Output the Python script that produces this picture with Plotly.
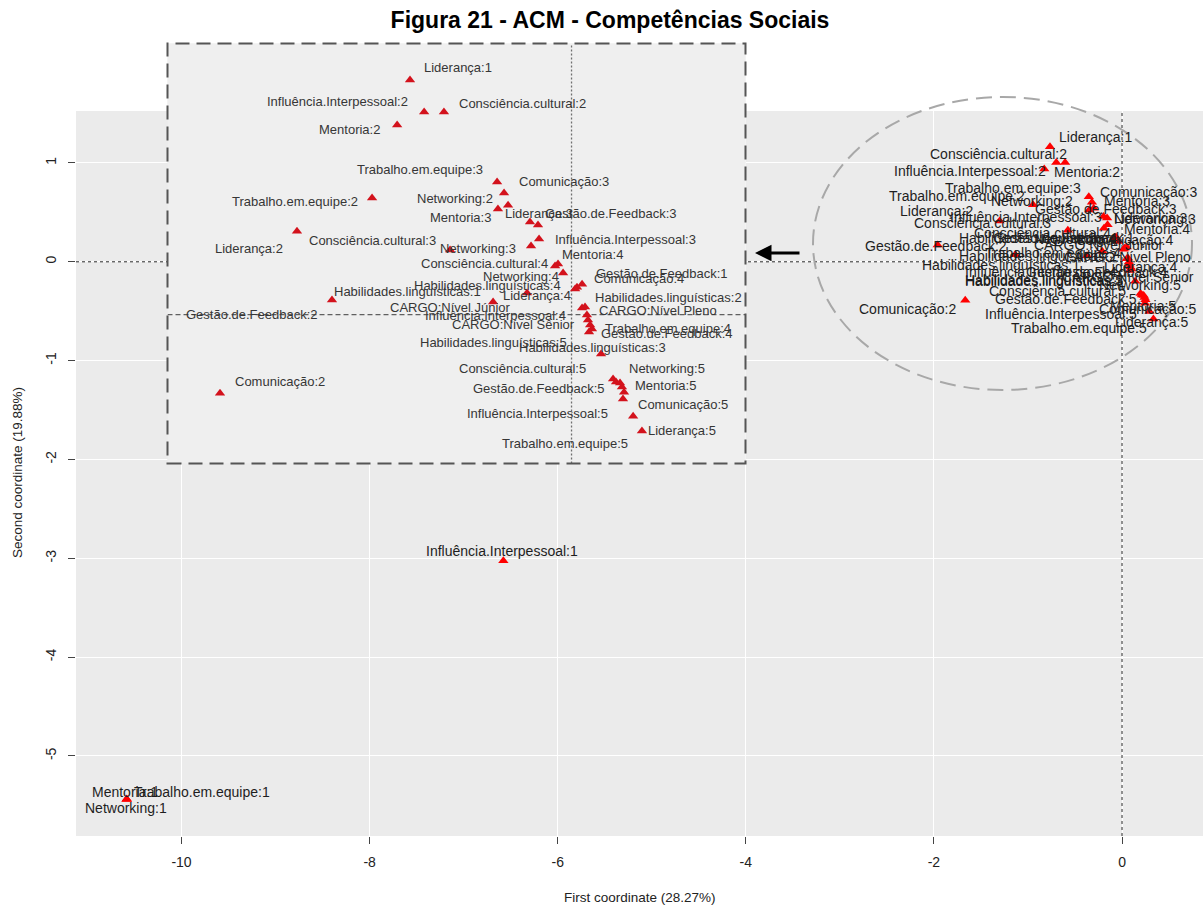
import plotly.graph_objects as go

# ---------------- MCA coordinates of each category ----------------
categories = [
    "Liderança:1", "Liderança:2", "Liderança:3", "Liderança:4", "Liderança:5",
    "Influência.Interpessoal:1", "Influência.Interpessoal:2", "Influência.Interpessoal:3",
    "Influência.Interpessoal:4", "Influência.Interpessoal:5",
    "Consciência.cultural:2", "Consciência.cultural:3", "Consciência.cultural:4", "Consciência.cultural:5",
    "Mentoria:1", "Mentoria:2", "Mentoria:3", "Mentoria:4", "Mentoria:5",
    "Trabalho.em.equipe:1", "Trabalho.em.equipe:2", "Trabalho.em.equipe:3",
    "Trabalho.em.equipe:4", "Trabalho.em.equipe:5",
    "Networking:1", "Networking:2", "Networking:3", "Networking:4", "Networking:5",
    "Comunicação:2", "Comunicação:3", "Comunicação:4", "Comunicação:5",
    "Gestão.de.Feedback:1", "Gestão.de.Feedback:2", "Gestão.de.Feedback:3",
    "Gestão.de.Feedback:4", "Gestão.de.Feedback:5",
    "Habilidades.linguísticas:1", "Habilidades.linguísticas:2", "Habilidades.linguísticas:3",
    "Habilidades.linguísticas:4", "Habilidades.linguísticas:5",
    "CARGO:Nível Júnior", "CARGO:Nível Pleno", "CARGO:Nível Sênior",
]

first_coord = [
    -0.766, -1.302, -0.197, -0.211, 0.334,
    -6.578, -0.699, -0.154, 0.050, 0.244,
    -0.605, -0.576, -0.078, 0.197,
    -10.583, -0.827, -0.349, -0.064, 0.239,
    -10.583, -0.946, -0.353, 0.097, 0.292,
    -10.583, -0.320, -0.192, -0.040, 0.230,
    -1.667, -0.301, 0.026, 0.249,
    0.050, -1.960, -0.159, 0.083, 0.211,
    -1.136, 0.064, 0.140, 0.017, 0.078,
    -0.372, 0.073, 0.088,
]

second_coord = [
    1.164, 0.414, 0.459, 0.107, -0.578,
    -3.024, 1.005, 0.375, 0.032, -0.419,
    1.005, 0.320, 0.241, -0.320,
    -5.439, 0.940, 0.524, 0.251, -0.360,
    -5.439, 0.578, 0.658, -0.072, -0.504,
    -5.439, 0.603, 0.340, 0.206, -0.340,
    -0.390, 0.543, 0.136, -0.385,
    0.151, 0.170, 0.444, -0.087, -0.335,
    0.072, 0.037, -0.196, 0.127, -0.027,
    0.062, -0.002, -0.052,
]

x_ticks = [-10, -8, -6, -4, -2, 0]
y_ticks = [1, 0, -1, -2, -3, -4, -5]

title_text = "Figura 21 - ACM - Competências Sociais"
x_title = "First coordinate (28.27%)"
y_title = "Second coordinate (19.88%)"

# ---------------- label placement (anchor, dx px, dy px; dy > 0 = down) ----------------
main_labels = {
    "Liderança:1": ("l", 7, -10), "Liderança:2": ("r", -25, -10), "Liderança:3": ("l", 8, 2),
    "Liderança:4": ("l", 0, 16), "Liderança:5": ("l", -40, 3),
    "Influência.Interpessoal:1": ("c", -1, -10), "Influência.Interpessoal:2": ("r", -8, 9),
    "Influência.Interpessoal:3": ("r", -4, -8), "Influência.Interpessoal:4": ("l", -164, 13),
    "Influência.Interpessoal:5": ("l", -162, 11),
    "Consciência.cultural:2": ("r", 4, -8), "Consciência.cultural:3": ("r", -15, -7),
    "Consciência.cultural:4": ("r", -2, -5), "Consciência.cultural:5": ("l", -154, -2),
    "Mentoria:1": ("c", -2, -7), "Mentoria:2": ("l", 8, 3), "Mentoria:3": ("l", 13, -9),
    "Mentoria:4": ("l", 6, -8), "Mentoria:5": ("r", 33, 9),
    "Trabalho.em.equipe:1": ("l", 5, -7), "Trabalho.em.equipe:2": ("r", -6, -9),
    "Trabalho.em.equipe:3": ("r", -6, -9), "Trabalho.em.equipe:4": ("l", -148, -16),
    "Trabalho.em.equipe:5": ("l", -140, 16),
    "Networking:1": ("c", -1, 9), "Networking:2": ("r", -17, -1), "Networking:3": ("l", 8, -9),
    "Networking:4": ("r", 0, -2), "Networking:5": ("r", 39, -10),
    "Comunicação:2": ("r", -7, 9), "Comunicação:3": ("l", 4, -16), "Comunicação:4": ("r", 51, -8),
    "Comunicação:5": ("l", -48, 9),
    "Gestão.de.Feedback:1": ("r", 10, -9), "Gestão.de.Feedback:2": ("l", -75, 1),
    "Gestão.de.Feedback:3": ("l", -74, -9), "Gestão.de.Feedback:4": ("r", 40, 2),
    "Gestão.de.Feedback:5": ("l", -149, 4),
    "Habilidades.linguísticas:1": ("l", -95, 10), "Habilidades.linguísticas:2": ("l", -171, -2),
    "Habilidades.linguísticas:3": ("l", -172, 0), "Habilidades.linguísticas:4": ("l", -167, -11),
    "Habilidades.linguísticas:5": ("l", -166, 16),
    "CARGO:Nível Júnior": ("r", 78, -11), "CARGO:Nível Pleno": ("r", 64, -5),
    "CARGO:Nível Sênior": ("r", 66, 10),
}

inset_labels = {
    "Liderança:1": ("l", 12, -12), "Liderança:2": ("r", -12, 17), "Liderança:3": ("l", -27, -9),
    "Liderança:4": ("c", 10, 2), "Liderança:5": ("l", 4, -1),
    "Influência.Interpessoal:2": ("r", -14, -11), "Influência.Interpessoal:3": ("l", 14, 1),
    "Influência.Interpessoal:4": ("r", -14, 7), "Influência.Interpessoal:5": ("r", -13, 14),
    "Consciência.cultural:2": ("l", 13, -9), "Consciência.cultural:3": ("r", -12, -10),
    "Consciência.cultural:4": ("r", -5, -3), "Consciência.cultural:5": ("r", -25, -11),
    "Mentoria:2": ("r", -15, 4), "Mentoria:3": ("r", -5, 9), "Mentoria:4": ("l", 2, -9),
    "Mentoria:5": ("l", 11, -2),
    "Trabalho.em.equipe:2": ("r", -12, 3), "Trabalho.em.equipe:3": ("r", -12, -12),
    "Trabalho.em.equipe:4": ("l", 11, -1), "Trabalho.em.equipe:5": ("c", -68, 27),
    "Networking:2": ("r", -9, 5), "Networking:3": ("r", -13, 2), "Networking:4": ("r", -2, 3),
    "Networking:5": ("l", 7, -15),
    "Comunicação:2": ("l", 13, -12), "Comunicação:3": ("l", 9, -24), "Comunicação:4": ("l", 15, -9),
    "Comunicação:5": ("l", 12, 12),
    "Gestão.de.Feedback:1": ("l", 12, -11), "Gestão.de.Feedback:2": ("l", 26, 34),
    "Gestão.de.Feedback:3": ("l", 5, -12), "Gestão.de.Feedback:4": ("l", 10, 1),
    "Gestão.de.Feedback:5": ("r", -9, 6),
    "Habilidades.linguísticas:1": ("l", 0, -9), "Habilidades.linguísticas:2": ("l", 8, -10),
    "Habilidades.linguísticas:3": ("l", -84, -7), "Habilidades.linguísticas:4": ("r", -12, -3),
    "Habilidades.linguísticas:5": ("r", -19, 22),
    "CARGO:Nível Júnior": ("c", -43, 5), "CARGO:Nível Pleno": ("l", 10, -4),
    "CARGO:Nível Sênior": ("r", -13, -1),
}

# ---------------- page geometry (pixels) ----------------
W, H = 1203, 907
ML, MR, MT, MB = 76, 0, 40, 71
PW, PH = W - ML - MR, H - MT - MB


def fx(px):
    return (px - ML) / PW


def fy(py):
    return (H - MB - py) / PH


main_top_px = 111
main_x_range = [-11.122, 0.861]
main_y_range = [-5.810, 1.526]

inset_box = (167.5, 745.5, 43.5, 463.5)  # left, right, top, bottom
inset_x_range = [-1.916, 0.825]
inset_y_range = [-0.739, 1.345]

FONT = "Liberation Sans, Arial, Helvetica, sans-serif"
ANCH = {"l": "left", "r": "right", "c": "center"}

fig = go.Figure()

# dashed reference axes of the full map (drawn under the points)
fig.add_trace(go.Scatter(x=[0, 0], y=main_y_range, mode="lines", xaxis="x", yaxis="y",
                         line=dict(color="#2A2A2A", width=1, dash="3px,3px"),
                         hoverinfo="skip", showlegend=False))
fig.add_trace(go.Scatter(x=main_x_range, y=[0, 0], mode="lines", xaxis="x", yaxis="y",
                         line=dict(color="#2A2A2A", width=1, dash="3px,3px"),
                         hoverinfo="skip", showlegend=False))

fig.add_trace(go.Scatter(
    x=first_coord, y=second_coord, text=categories, mode="markers",
    marker=dict(symbol="triangle-up", size=9, color="#FF0000", line=dict(width=0)),
    xaxis="x", yaxis="y", hoverinfo="text", showlegend=False,
))

# zoomed window: light background, reference axes, then the points
fig.add_trace(go.Scatter(
    x=[inset_x_range[0], inset_x_range[1], inset_x_range[1], inset_x_range[0], inset_x_range[0]],
    y=[inset_y_range[0], inset_y_range[0], inset_y_range[1], inset_y_range[1], inset_y_range[0]],
    mode="lines", fill="toself", fillcolor="#EFEFEF", line=dict(width=0),
    xaxis="x2", yaxis="y2", hoverinfo="skip", showlegend=False,
))
fig.add_trace(go.Scatter(x=[0, 0], y=inset_y_range, mode="lines", xaxis="x2", yaxis="y2",
                         line=dict(color="#707070", width=1.3, dash="2px,2px"),
                         hoverinfo="skip", showlegend=False))
fig.add_trace(go.Scatter(x=inset_x_range, y=[0, 0], mode="lines", xaxis="x2", yaxis="y2",
                         line=dict(color="#606060", width=1.3, dash="5px,3px"),
                         hoverinfo="skip", showlegend=False))
fig.add_trace(go.Scatter(
    x=first_coord, y=second_coord, text=categories, mode="markers",
    marker=dict(symbol="triangle-up", size=9, color="#D3121C", line=dict(width=0)),
    xaxis="x2", yaxis="y2", hoverinfo="text", showlegend=False,
))

annotations = []

# labels of the full map
for name, xv, yv in zip(categories, first_coord, second_coord):
    a, dx, dy = main_labels[name]
    annotations.append(dict(
        x=xv, y=yv, xref="x", yref="y", text=name, showarrow=False,
        xanchor=ANCH[a], yanchor="middle", xshift=dx, yshift=-dy,
        font=dict(family=FONT, size=14, color="#1E1E1E"),
    ))

# labels of the zoomed window (kept inside the window)
ix_scale = (inset_box[1] - inset_box[0]) / (inset_x_range[1] - inset_x_range[0])
iy_scale = (inset_box[3] - inset_box[2]) / (inset_y_range[1] - inset_y_range[0])
for name, xv, yv in zip(categories, first_coord, second_coord):
    if name not in inset_labels:
        continue
    a, dx, dy = inset_labels[name]
    xa = min(max(xv, inset_x_range[0] + 0.005), inset_x_range[1] - 0.005)
    ya = min(max(yv, inset_y_range[0] + 0.005), inset_y_range[1] - 0.005)
    dx += (xv - xa) * ix_scale
    dy -= (yv - ya) * iy_scale
    annotations.append(dict(
        x=xa, y=ya, xref="x2", yref="y2", text=name, showarrow=False,
        xanchor=ANCH[a], yanchor="middle", xshift=dx, yshift=-dy,
        font=dict(family=FONT, size=13, color="#363636"),
    ))

# axis titles
annotations.append(dict(
    x=0.5, y=fy(897), xref="paper", yref="paper", text=x_title, showarrow=False,
    xanchor="center", yanchor="middle", font=dict(family=FONT, size=13.5, color="#222"),
))
annotations.append(dict(
    x=fx(17), y=fy(473), xref="paper", yref="paper", text=y_title, showarrow=False,
    textangle=-90, xanchor="center", yanchor="middle",
    font=dict(family=FONT, size=13.5, color="#222"),
))

# arrow pointing from the cluster to the zoomed window
annotations.append(dict(
    x=fx(755), y=fy(253), xref="paper", yref="paper", text="", showarrow=True,
    ax=46, ay=0, axref="pixel", ayref="pixel",
    arrowhead=2, arrowsize=1.1, arrowwidth=3, arrowcolor="#000000",
))

shapes = [
    # zoomed window frame
    dict(type="rect", xref="paper", yref="paper",
         x0=fx(inset_box[0]), x1=fx(inset_box[1]), y0=fy(inset_box[3]), y1=fy(inset_box[2]),
         layer="above", line=dict(color="#555555", width=2, dash="14px,7px")),
    # dashed ellipse around the central cluster
    dict(type="circle", xref="paper", yref="paper",
         x0=fx(813), x1=fx(1192), y0=fy(390), y1=fy(97),
         layer="above", line=dict(color="#A8A8A8", width=2, dash="16px,8px")),
]

axis_font = dict(family=FONT, size=14, color="#222")

fig.update_layout(
    width=W, height=H,
    margin=dict(l=ML, r=MR, t=MT, b=MB, pad=0),
    paper_bgcolor="#FFFFFF", plot_bgcolor="#EBEBEB",
    font=dict(family=FONT, color="#222"),
    title=dict(text="<b>" + title_text + "</b>", x=610 / W, xref="container", xanchor="center",
               y=1 - 20 / H, yref="container", yanchor="middle",
               font=dict(family=FONT, size=23, color="#000")),
    xaxis=dict(domain=[0, 1], range=main_x_range, tickvals=x_ticks,
               ticktext=[str(v) for v in x_ticks], showgrid=True, gridcolor="#FFFFFF",
               gridwidth=1.2, zeroline=False, showline=False, ticks="outside", ticklen=7,
               tickcolor="#444", tickwidth=1, tickfont=axis_font, ticklabelstandoff=6,
               anchor="y"),
    yaxis=dict(domain=[0, fy(main_top_px)], range=main_y_range, tickvals=y_ticks,
               ticktext=[str(v) for v in y_ticks], showgrid=True, gridcolor="#FFFFFF",
               gridwidth=1.2, zeroline=False, showline=False, ticks="outside", ticklen=7,
               tickcolor="#444", tickwidth=1, tickfont=axis_font, tickangle=-90,
               ticklabelstandoff=6, anchor="x"),
    xaxis2=dict(domain=[fx(inset_box[0]), fx(inset_box[1])], range=inset_x_range,
                showgrid=False, zeroline=False, showline=False, showticklabels=False,
                ticks="", anchor="y2"),
    yaxis2=dict(domain=[fy(inset_box[3]), fy(inset_box[2])], range=inset_y_range,
                showgrid=False, zeroline=False, showline=False, showticklabels=False,
                ticks="", anchor="x2"),
    shapes=shapes,
    annotations=annotations,
    showlegend=False,
)

fig.write_html("out.html")
